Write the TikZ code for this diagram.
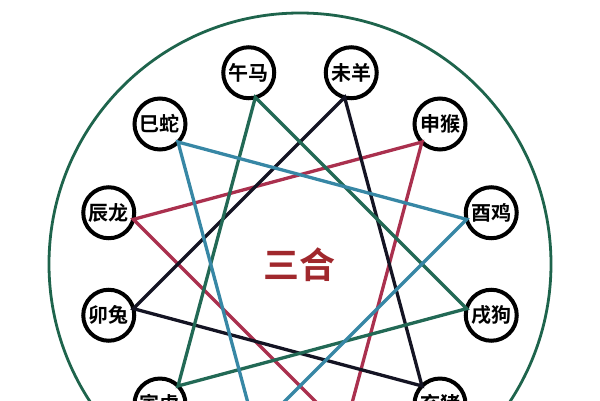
\documentclass[tikz,border=0pt]{standalone}
\usepackage{fontspec}
\usepackage{tikz}
\newfontfamily\cjk{Noto Sans CJK SC}[BoldFont={Noto Sans CJK SC Bold}]
\definecolor{ringgreen}{RGB}{30,100,76}
\definecolor{crimson}{RGB}{170,48,78}
\definecolor{pinegreen}{RGB}{34,105,85}
\definecolor{steelblue}{RGB}{55,135,165}
\definecolor{inkblack}{RGB}{20,20,35}
\definecolor{titlered}{RGB}{160,40,45}

\begin{document}
\begin{tikzpicture}[x=1pt, y=1pt,
		animal/.style={circle, draw=black, fill=white, line width=4pt, minimum size=51pt, inner sep=0pt, outer sep=0pt, font=\cjk\bfseries\fontsize{20}{20}\selectfont},
		trine/.style={line width=3.3pt}]

		\useasboundingbox (-300, -136) rectangle (300, 264);

		% outer ring
		\draw[ringgreen, line width=2.8pt] (0, 0) circle (251);

		% animal circles
		\node[animal] (wu) at (105:198) {午马};
		\node[animal] (wei) at (75:198) {未羊};
		\node[animal] (shen) at (45:198) {申猴};
		\node[animal] (you) at (15:198) {酉鸡};
		\node[animal] (xu) at (-15:198) {戌狗};
		\node[animal] (hai) at (-45:198) {亥猪};
		\node[animal] (yin) at (-135:198) {寅虎};
		\node[animal] (mao) at (-165:198) {卯兔};
		\node[animal] (chen) at (165:198) {辰龙};
		\node[animal] (si) at (135:198) {巳蛇};

		% lower circles fall below the edge
		\coordinate (zi) at (-75:172.5);
		\coordinate (chou) at (-105:172.5);

		% shen zi chen
		\draw[trine, crimson] (chen.-15) -- (shen.-135) -- (zi) -- cycle;

		% hai mao wei
		\draw[trine, inkblack] (mao.15) -- (wei.-105) -- (hai.135) -- cycle;

		% yin wu xu
		\draw[trine, pinegreen] (yin.45) -- (wu.-75) -- (xu.165) -- cycle;

		% si you chou
		\draw[trine, steelblue] (si.-45) -- (you.-165) -- (chou) -- cycle;

		% title in the middle
		\node[titlered, font=\cjk\bfseries\fontsize{36}{36}\selectfont] (sanhe) at (0, -1) {三合};

\end{tikzpicture}
\end{document}
